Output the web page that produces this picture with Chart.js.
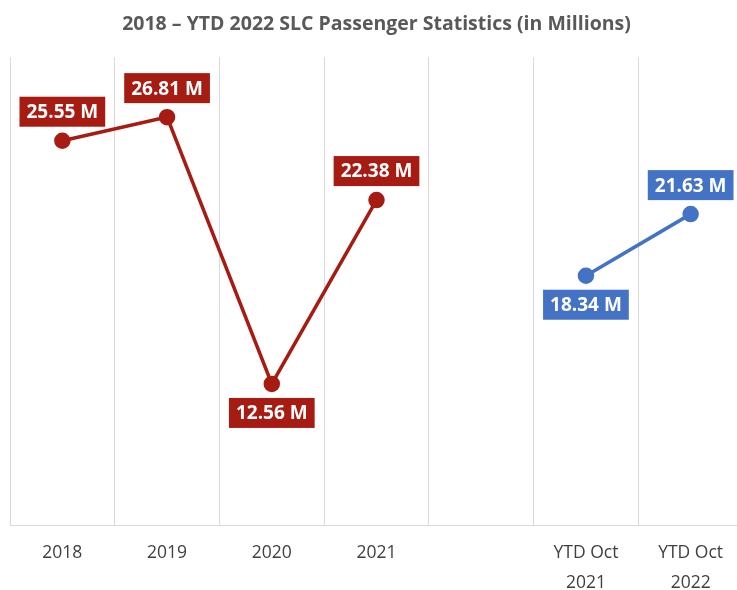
<!DOCTYPE html>
<html>
<head>
<meta charset="utf-8">
<script src="https://cdn.jsdelivr.net/npm/chart.js@4"></script>
<style>
  html, body { margin: 0; padding: 0; background: #fff; overflow: hidden; }
  #wrap { width: 753px; height: 611px; }
</style>
</head>
<body>
<div id="wrap"><canvas id="chart_1"></canvas></div>
<script>
const labels = ['2018', '2019', '2020', '2021', '', ['YTD Oct', '2021'], ['YTD Oct', '2022']];
const annualValues = [25.55, 26.81, 12.56, 22.38, null, null, null];
const ytdValues = [null, null, null, null, null, 18.34, 21.63];
// where each value label sits relative to its point
const annualPos = ['above', 'above', 'below', 'above', null, null, null];
const ytdPos = [null, null, null, null, null, 'below', 'above'];

const RED = '#A61C13';
const BLUE = '#4472C4';

const valueLabels = {
  id: 'valueLabels',
  afterDatasetsDraw(chart) {
    const { ctx } = chart;
    ctx.save();
    ctx.font = 'bold 19px "Open Sans", sans-serif';
    ctx.textAlign = 'center';
    ctx.textBaseline = 'middle';
    chart.data.datasets.forEach((ds, di) => {
      const meta = chart.getDatasetMeta(di);
      const pos = di === 0 ? annualPos : ytdPos;
      meta.data.forEach((pt, i) => {
        const v = ds.data[i];
        if (v === null || v === undefined) return;
        const txt = v.toFixed(2) + ' M';
        const w = ctx.measureText(txt).width + 14;
        const h = 30;
        const cy = pos[i] === 'below' ? pt.y + 14 + h / 2 : pt.y - 14 - h / 2;
        ctx.fillStyle = ds.borderColor;
        ctx.fillRect(pt.x - w / 2, cy - h / 2, w, h);
        ctx.fillStyle = '#fff';
        ctx.fillText(txt, pt.x, cy + 1);
      });
    });
    ctx.restore();
  }
};

const config = {
  type: 'line',
  data: {
    labels,
    datasets: [
      {
        label: 'Annual',
        data: annualValues,
        borderColor: RED,
        backgroundColor: RED,
        borderWidth: 3.5,
        pointRadius: 6.5,
        pointHoverRadius: 6.5,
        spanGaps: false
      },
      {
        label: 'YTD',
        data: ytdValues,
        borderColor: BLUE,
        backgroundColor: BLUE,
        borderWidth: 3.5,
        pointRadius: 6.5,
        pointHoverRadius: 6.5,
        spanGaps: false
      }
    ]
  },
  options: {
    responsive: true,
    maintainAspectRatio: false,
    animation: false,
    layout: { padding: { left: 9, right: 9, top: 0, bottom: 0 } },
    plugins: {
      legend: { display: false },
      tooltip: { enabled: false },
      title: {
        display: true,
        text: '2018 – YTD 2022 SLC Passenger Statistics (in Millions)',
        color: '#595959',
        font: { family: '"Open Sans", sans-serif', size: 19.5, weight: 'bold' },
        padding: { top: 13, bottom: 21 }
      }
    },
    scales: {
      x: {
        offset: true,
        grid: { offset: true, color: '#d9d9d9', drawTicks: false },
        border: { color: '#d9d9d9' },
        ticks: {
          color: '#404040',
          font: { family: '"Open Sans", sans-serif', size: 17.5, lineHeight: 1.7 },
          padding: 13,
          maxRotation: 0,
          autoSkip: false
        }
      },
      y: {
        display: false,
        min: 5,
        max: 30
      }
    }
  },
  plugins: [valueLabels]
};

const chart_1 = new Chart(document.getElementById('chart_1'), config);
</script>
</body>
</html>
